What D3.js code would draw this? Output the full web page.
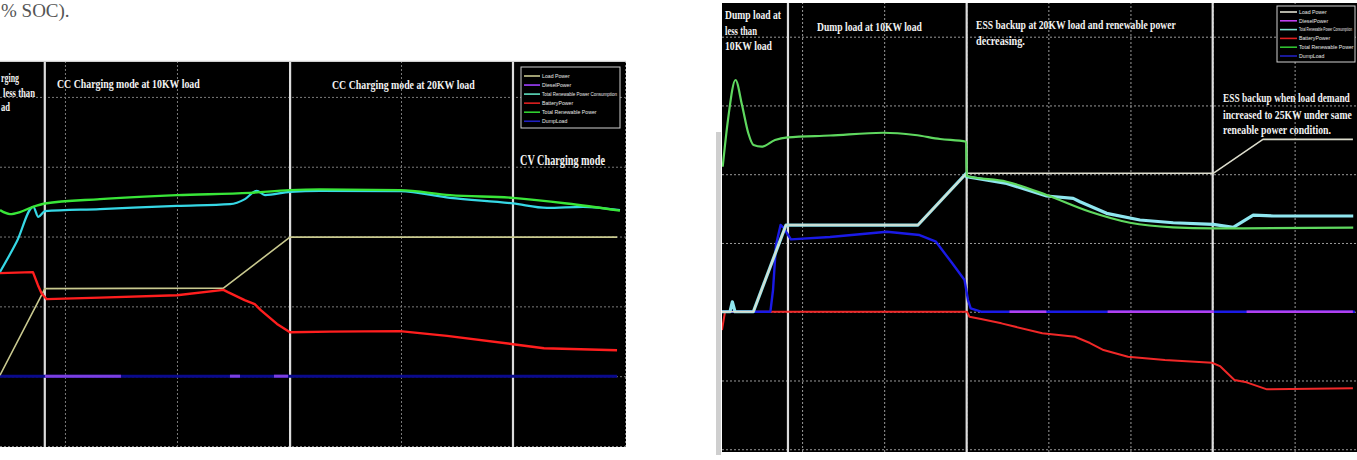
<!DOCTYPE html>
<html><head><meta charset="utf-8">
<script src="https://cdn.jsdelivr.net/npm/d3@7"></script>
<style>html,body{margin:0;padding:0;background:#fff;} svg{display:block}</style>
</head><body>
<svg id="c" width="1357" height="460"></svg>
<script>
// ---------------- DATA ----------------
const seriesNames = ["Load Power","DieselPower","Total Renewable Power Consumption","BatteryPower","Total Renewable Power","DumpLoad"];

// Left panel: time (s) , power (kW)
const leftLoad = [[-0.58,0.14],[-0.179,12.54],[1.415,12.61],[2.009,19.91],[4.929,19.91]];
const leftDump = [[-0.58,0],[4.93,0]];
const leftDieselSegments = [[-0.179,0.5],[1.473,1.563],[1.866,1.991]];
const leftBattery = [[-0.58,14.76],[-0.286,14.9],[-0.241,13.04],[-0.208,11.85],[-0.163,11.03],[0.3125,11.25],[1.0,11.6],[1.415,12.36],[1.455,12.03],[1.604,10.89],[1.694,10.32],[1.748,9.46],[1.893,7.49],[2.009,6.30],[2.366,6.38],[2.991,6.45],[3.411,5.77],[4.0,4.58],[4.277,4.01],[4.929,3.72]];
const leftConsumption = [[-0.58,14.94],[-0.431,19.24],[-0.283,24.26],[-0.238,22.82],[-0.179,23.64],[0.3125,23.93],[1.0,24.40],[1.473,24.64],[1.607,25.36],[1.712,26.55],[1.786,25.93],[2.009,26.40],[2.277,26.55],[2.991,26.50],[3.438,25.54],[4.0,24.74],[4.304,24.11],[4.625,24.26],[4.955,23.78]];
const leftRenewable = [[-0.58,23.78],[-0.491,23.21],[-0.402,23.5],[-0.286,24.26],[-0.179,24.74],[0.3125,25.36],[1.0,25.93],[1.652,26.26],[2.009,26.65],[2.277,26.75],[2.991,26.65],[3.438,25.93],[4.0,25.54],[4.482,24.74],[4.955,23.71]];
const leftSections = [-0.18, 2.01, 4.0];
const leftXTicks = [0,1,2,3,4,5];
const leftYTicks = [-10,0,10,20,30,40];
const leftNotes = ["rging","less than","ad","CC Charging mode at 10KW load","CC Charging mode at 20KW load","CV Charging mode"];

// Right panel: time (s), power (kW)
const rightLoad = [[0.024,0],[0.406,0],[0.804,12.61],[2.412,12.61],[3.005,20.13],[6.008,20.13],[6.614,25.07],[7.710,25.07]];
const rightDump = [[0.024,0],[0.614,0],[0.646,3.16],[0.682,9.70],[0.738,12.61],[0.780,12.17],[0.814,11.45],[0.864,10.53],[1.340,10.86],[2.033,11.63],[2.431,11.15],[2.631,10.18],[2.829,7.04],[2.979,4.61],[3.021,1.70],[3.054,0.49],[3.179,0],[7.734,0]];
const rightDieselSegments = [[3.527,3.976],[4.722,6.017],[6.415,7.710]];
const rightBattery = [[0.024,-2.66],[0.061,0],[3.009,0],[3.039,-0.73],[3.179,-1.06],[3.428,-1.69],[3.926,-3.14],[4.324,-3.64],[4.507,-4.55],[4.672,-5.57],[4.970,-6.54],[5.420,-7.02],[5.993,-7.42],[6.090,-7.90],[6.267,-9.93],[6.415,-10.27],[6.663,-11.29],[7.710,-11.14]];
const rightConsumption = [[0.024,0],[0.122,0],[0.150,1.45],[0.183,0],[0.406,0],[0.804,12.61],[2.412,12.61],[3.000,20.13],[3.005,19.63],[3.492,18.67],[3.979,16.83],[4.303,16.49],[4.385,16.0],[4.710,14.31],[5.116,13.34],[5.521,12.94],[6.008,12.71],[6.252,12.27],[6.496,14.06],[6.739,13.92],[7.714,13.92]];
const rightRenewable = [[0.033,21.09],[0.097,27.88],[0.189,33.70],[0.268,30.06],[0.345,25.95],[0.408,24.24],[0.508,24.0],[0.670,24.97],[0.825,25.36],[1.340,25.63],[1.989,26.03],[2.375,25.70],[2.680,25.12],[2.999,24.72],[3.005,19.74],[3.492,18.91],[3.979,16.97],[4.507,14.54],[4.994,12.94],[5.521,12.27],[6.008,12.13],[7.714,12.22]];
const rightSections = [0.828, 3.005, 6.002];
const rightXTicks = [1,2,3,4,5,6,7];
const rightYTicks = [-20,-10,0,10,20,30,40];
const rightNotes = ["Dump load at","less than","10KW load","Dump load at 10KW load","ESS backup at 20KW load and renewable power","decreasing.","ESS backup when load demand","increased to  25KW under same","reneable power condition."];

const pageFragment = "% SOC).";

// ---------------- LAYOUT / STYLE ----------------
const svg = d3.select("#c");
const serif = "'Liberation Serif','DejaVu Serif',serif";

svg.append("text").attr("x",1).attr("y",17).attr("font-family",serif)
  .attr("font-size",19).attr("fill","#555").text(pageFragment);

// place text at (x,y) and squeeze it horizontally to a target width
function fitText(sel, px, py, width){
  sel.attr("x",0).attr("y",0);
  const n = sel.node().getComputedTextLength();
  const s = Math.min(1.2, width / n);
  sel.attr("transform",`translate(${px},${py}) scale(${s},1)`);
}

const leftCfg = {
  box:{x0:0,x1:626,y0:62,y1:447},
  x:d3.scaleLinear().domain([-0.58,5.0]).range([0,625]),
  y:d3.scaleLinear().domain([-10,45]).range([446,62]),
  xTicks:leftXTicks, yTicks:leftYTicks, sections:leftSections,
  gridColor:"#7a7a7a",
  colors:{load:"#c9c98f",diesel:"#7b3fe0",cons:"#36d8e6",bat:"#ff1e1e",ren:"#39e639",dump:"#0a0a8c"},
  legendColors:["#c9c98f","#a040ff","#5fe0c0","#e02020","#30d030","#2020c0"],
  series:{load:leftLoad,dump:leftDump,diesel:leftDieselSegments,bat:leftBattery,cons:leftConsumption,ren:leftRenewable},
  legend:{x:521,y:67,w:99,h:61,row0:76,rowStep:9.05,lx0:524,lx1:540,tx:542,fs:5.2,fit:[null,null,75,null,null,null]},
  notes:leftNotes,
  notePos:[[1,82,18,12],[3,97,32,12],[1,111,9,12],[57,88,143,13],[332,89,143,13],[520,165,85,14]],
  id:"L"
};
const rightCfg = {
  box:{x0:722,x1:1357,y0:3,y1:452},
  x:d3.scaleLinear().domain([0,7.76]).range([720,1357]),
  y:d3.scaleLinear().domain([-20.4,44.9]).range([452,3]),
  xTicks:rightXTicks, yTicks:rightYTicks, sections:rightSections,
  gridColor:"#9a9a9a",
  colors:{load:"#dcdccc",diesel:"#b040f0",cons:"#8fe6ef",bat:"#f02828",ren:"#5fd85f",dump:"#1a1ae6"},
  legendColors:["#e0e0d0","#c040f0","#80e0d0","#e02020","#30c030","#2020c0"],
  series:{load:rightLoad,dump:rightDump,diesel:rightDieselSegments,bat:rightBattery,cons:rightConsumption,ren:rightRenewable},
  legend:{x:1277,y:6,w:78,h:56,row0:12,rowStep:8.8,lx0:1280,lx1:1297,tx:1299,fs:5.2,fit:[null,null,53,null,null,null]},
  notes:rightNotes,
  notePos:[[725,19,56,12],[725,35,32,12],[725,50,47,12],[817,31,105,12.5],[976,29,200,12.5],[976,45,49,12.5],[1223,102,127,12.5],[1223,119,129,12.5],[1223,134,108,12.5]],
  id:"R"
};

function drawPanel(c){
  const b=c.box, x=c.x, y=c.y;
  const defs=svg.append("defs");
  defs.append("clipPath").attr("id","clip"+c.id).append("rect")
    .attr("x",b.x0).attr("y",b.y0).attr("width",b.x1-b.x0).attr("height",b.y1-b.y0);
  const g=svg.append("g");
  g.append("rect").attr("x",b.x0).attr("y",b.y0).attr("width",b.x1-b.x0).attr("height",b.y1-b.y0).attr("fill","#000");
  const p=g.append("g").attr("clip-path",`url(#clip${c.id})`);

  // grid via axes
  const gx=p.append("g").attr("transform",`translate(0,${b.y1})`)
    .call(d3.axisBottom(x).tickValues(c.xTicks).tickSize(-(b.y1-b.y0)).tickFormat(""));
  const gy=p.append("g").attr("transform",`translate(${b.x0},0)`)
    .call(d3.axisLeft(y).tickValues(c.yTicks).tickSize(-(b.x1-b.x0)).tickFormat(""));
  [gx,gy].forEach(a=>{a.select(".domain").remove();
    a.selectAll(".tick line").attr("stroke",c.gridColor).attr("stroke-width",1).attr("stroke-dasharray","2,2");});

  // section separators
  p.selectAll(".sep").data(c.sections).join("line")
    .attr("x1",d=>x(d)).attr("x2",d=>x(d)).attr("y1",b.y0).attr("y2",b.y1)
    .attr("stroke","#dcdcdc").attr("stroke-width",2.2);

  const smooth=d3.line().x(d=>x(d[0])).y(d=>y(d[1])).curve(d3.curveMonotoneX);
  const sharp=d3.line().x(d=>x(d[0])).y(d=>y(d[1])).curve(d3.curveLinear);
  const S=c.series, C=c.colors;
  const drawLine=(data,col,w,gen)=>p.append("path").datum(data).attr("d",gen)
    .attr("fill","none").attr("stroke",col).attr("stroke-width",w).attr("stroke-linejoin","round");

  if(c.id==="L"){
    drawLine(S.dump,C.dump,3,sharp);
    p.selectAll(".dz").data(S.diesel).join("line")
      .attr("x1",d=>x(d[0])).attr("x2",d=>x(d[1])).attr("y1",y(0)).attr("y2",y(0))
      .attr("stroke",C.diesel).attr("stroke-width",3);
    drawLine(S.load,C.load,1.6,sharp);
    drawLine(S.bat,C.bat,2.4,sharp);
    drawLine(S.cons,C.cons,2.2,smooth);
    drawLine(S.ren,C.ren,2.4,smooth);
  } else {
    drawLine(S.bat,C.bat,2,sharp);
    drawLine(S.dump,C.dump,2.4,sharp);
    p.selectAll(".dz").data(S.diesel).join("line")
      .attr("x1",d=>x(d[0])).attr("x2",d=>x(d[1])).attr("y1",y(0)).attr("y2",y(0))
      .attr("stroke",C.diesel).attr("stroke-width",2.6);
    drawLine(S.cons,C.cons,3.2,sharp);
    drawLine(S.load,C.load,1.6,sharp);
    drawLine(S.ren,C.ren,2.2,smooth);
  }

  // legend (unclipped so texts keep their full box)
  const L=c.legend;
  const lg=g.append("g");
  lg.append("rect").attr("x",L.x).attr("y",L.y).attr("width",L.w).attr("height",L.h)
    .attr("fill","#000").attr("stroke","#d0d0d0").attr("stroke-width",1);
  const rows=lg.selectAll(".row").data(seriesNames).join("g");
  rows.append("line").attr("x1",L.lx0).attr("x2",L.lx1)
    .attr("y1",(d,i)=>L.row0+i*L.rowStep).attr("y2",(d,i)=>L.row0+i*L.rowStep)
    .attr("stroke",(d,i)=>c.legendColors[i]).attr("stroke-width",1.6);
  rows.append("text")
    .attr("font-family","'Liberation Sans Narrow','Liberation Sans',sans-serif")
    .attr("font-size",L.fs).attr("fill","#e8e8e8").text(d=>d)
    .each(function(d,i){
      const t=d3.select(this), py=L.row0+i*L.rowStep+1.8;
      if(L.fit[i]) fitText(t,L.tx,py,L.fit[i]); else t.attr("x",L.tx).attr("y",py);
    });

  // annotations
  const ng=g.append("g");
  ng.selectAll(".note").data(c.notes).join("text")
    .attr("font-size",(d,i)=>c.notePos[i][3]).attr("font-weight","bold")
    .attr("font-family",serif).attr("fill","#f2f2f2").text(d=>d)
    .each(function(d,i){ const q=c.notePos[i]; fitText(d3.select(this),q[0],q[1],q[2]); });
}

// left panel top border
svg.append("line").attr("x1",0).attr("x2",626).attr("y1",61.5).attr("y2",61.5).attr("stroke","#cfcfcf").attr("stroke-width",1.5);
drawPanel(leftCfg);
drawPanel(rightCfg);
// right panel left grey strip
svg.append("rect").attr("x",716).attr("y",132).attr("width",5).attr("height",323).attr("fill","#cfcfcf");
</script></body></html>
